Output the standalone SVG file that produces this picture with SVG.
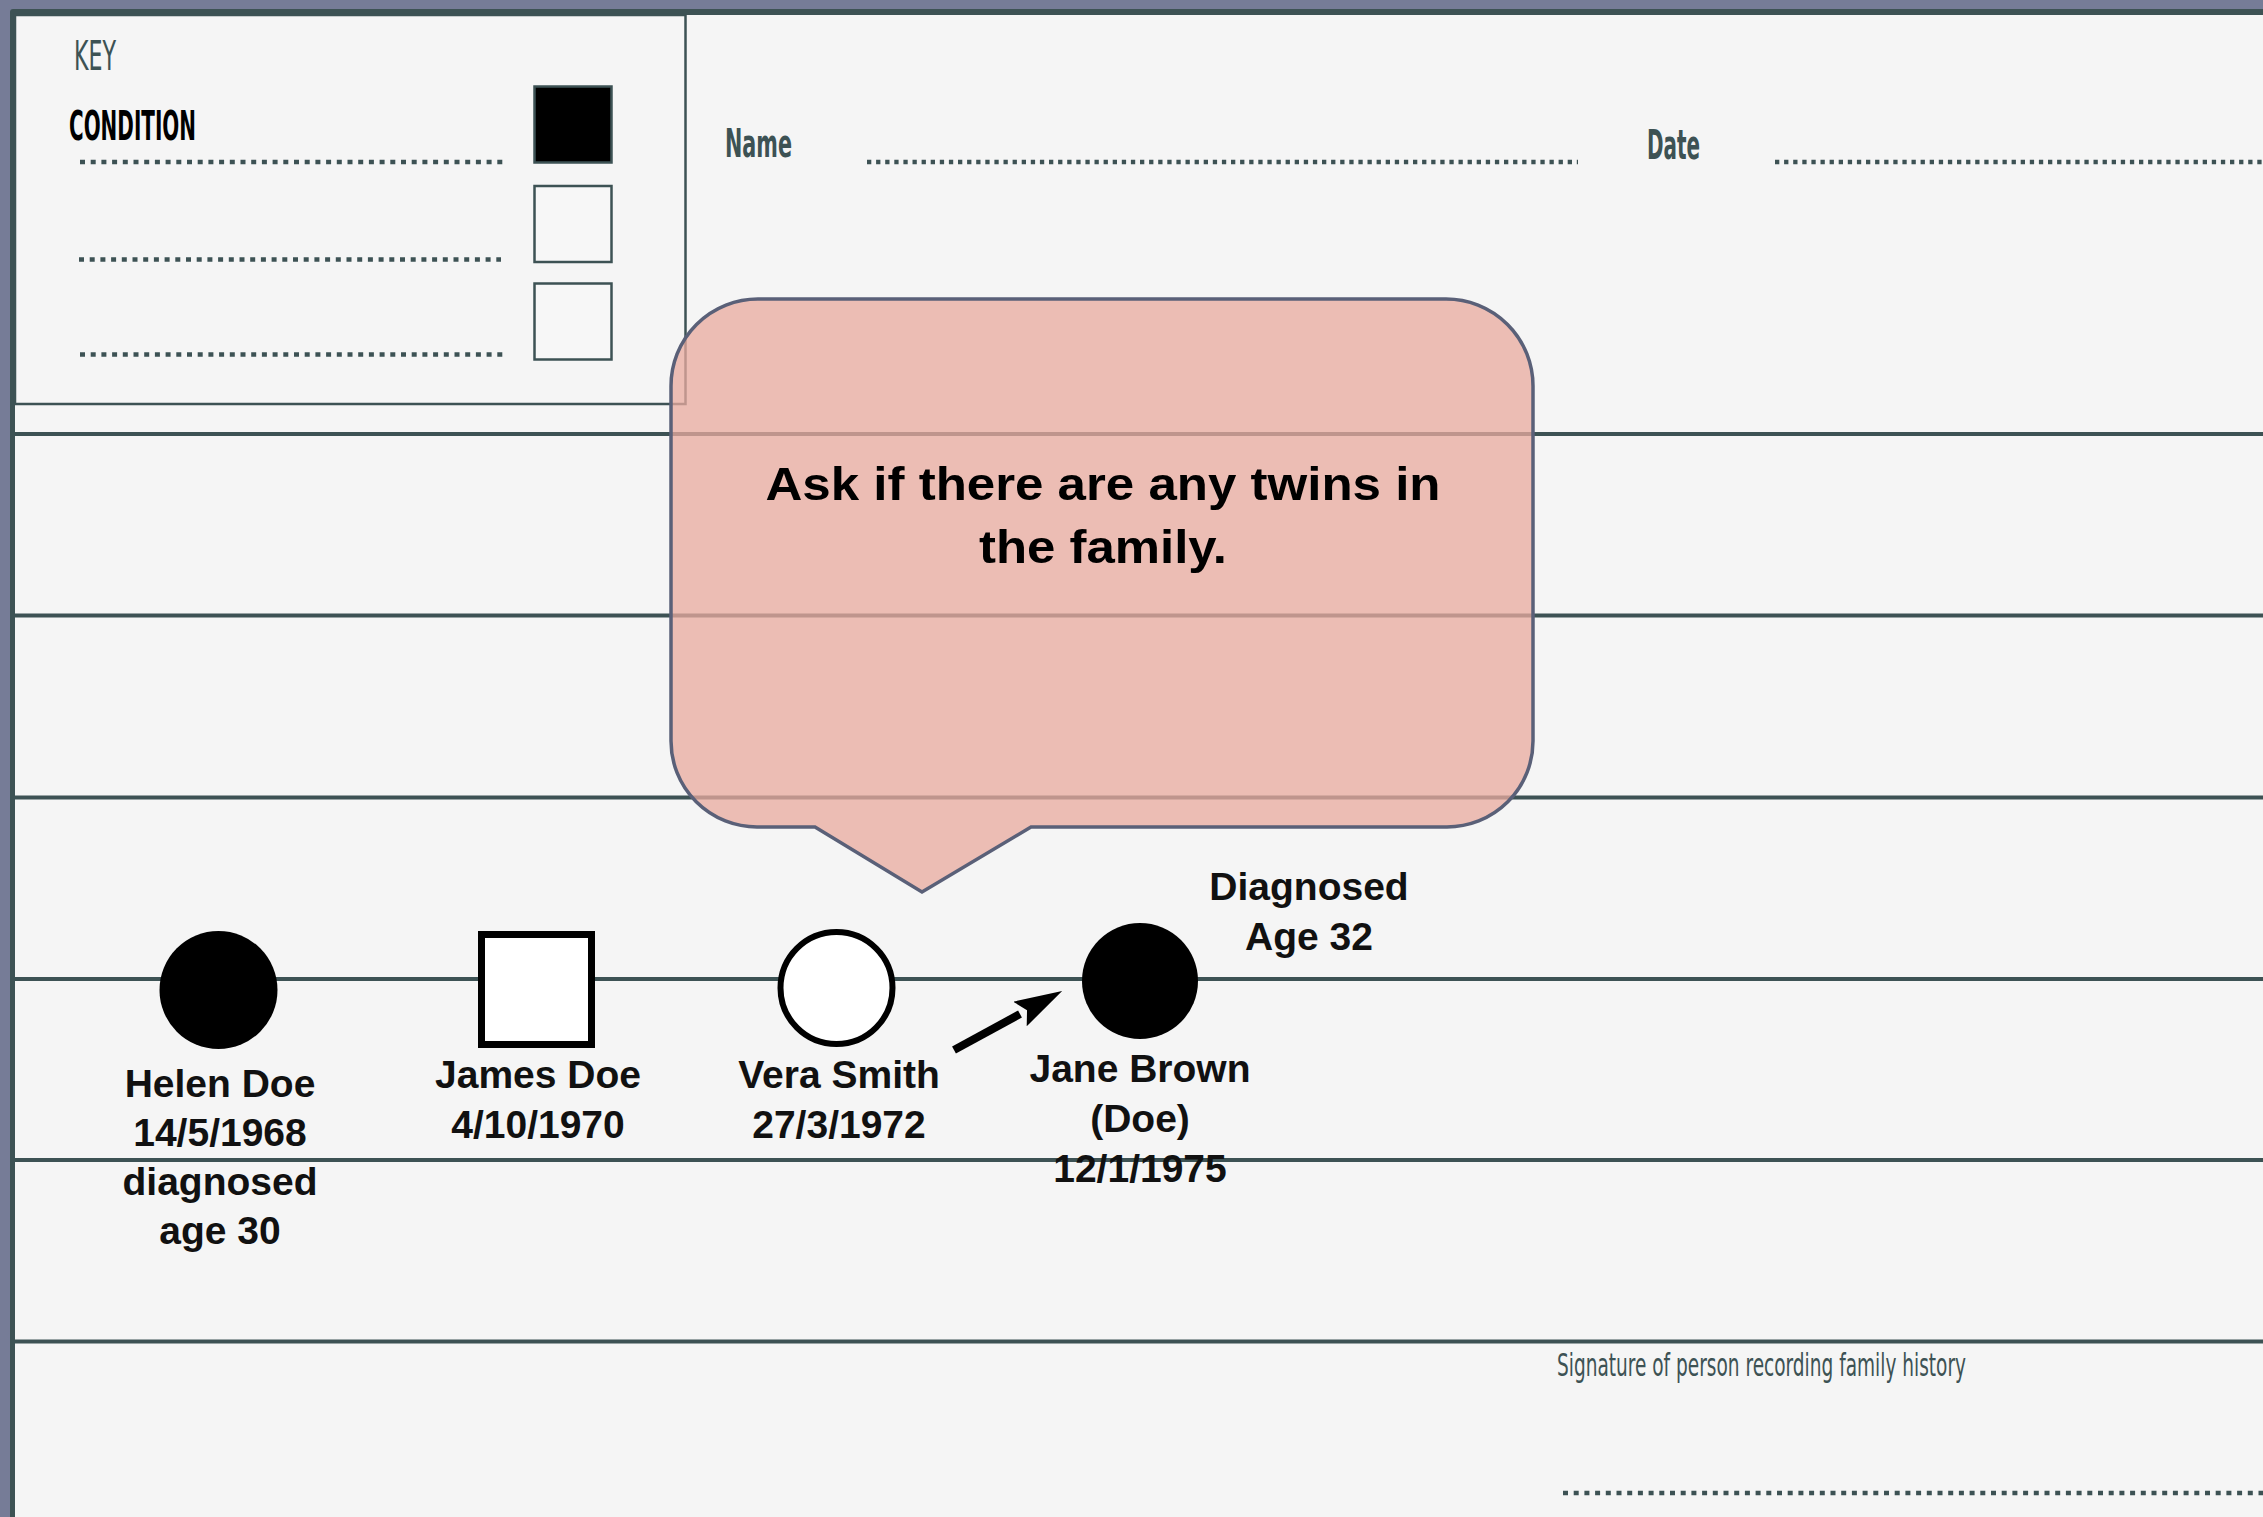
<svg xmlns="http://www.w3.org/2000/svg" width="2263" height="1517" viewBox="0 0 2263 1517">
  <style>
    .cond { font-family: "Liberation Sans Narrow", "DejaVu Sans Condensed", "Liberation Sans", sans-serif; font-weight: bold; fill: #3d5254; }
    .lbl { font-family: "Liberation Sans", Arial, sans-serif; font-weight: bold; font-size: 39px; fill: #111; text-anchor: middle; }
    .rule { stroke: #3d5254; stroke-width: 4; }
    .dots { stroke: #3d5254; stroke-width: 4.6; stroke-dasharray: 5 5.7; fill: none; }
    .dots2 { stroke: #3d5254; stroke-width: 4.6; stroke-dasharray: 4.3 4.8; fill: none; }
    .keysq { stroke: #3d5254; stroke-width: 2.5; }
  </style>
  <defs>
    <marker id="arrowhead" markerUnits="userSpaceOnUse" markerWidth="48" markerHeight="28" viewBox="0 0 48 28" refX="0" refY="14" orient="auto">
      <path d="M0,0 L48,14 L0,28 L8,14 Z" fill="#000"/>
    </marker>
  </defs>

  <!-- page frame -->
  <g id="frame">
    <rect x="0" y="0" width="2263" height="1517" fill="#767c97"/>
    <rect x="10" y="9" width="2263" height="1530" rx="3" fill="#3d5254"/>
    <rect x="15" y="15" width="2263" height="1530" fill="#f5f5f5"/>
  </g>

  <!-- ruled lines -->
  <g id="rules">
    <line class="rule" x1="15" y1="434" x2="2263" y2="434"/>
    <line class="rule" x1="15" y1="615.5" x2="2263" y2="615.5"/>
    <line class="rule" x1="15" y1="797.5" x2="2263" y2="797.5"/>
    <line class="rule" x1="15" y1="979" x2="2263" y2="979"/>
    <line class="rule" x1="15" y1="1160" x2="2263" y2="1160"/>
    <line class="rule" x1="15" y1="1341.5" x2="2263" y2="1341.5"/>
  </g>

  <!-- key -->
  <g id="key">
    <rect x="15" y="15" width="670.5" height="389" fill="none" stroke="#3d5254" stroke-width="2.5"/>
    <text class="cond" x="74" y="70" font-size="41" textLength="42" lengthAdjust="spacingAndGlyphs" style="font-weight:normal">KEY</text>
    <text class="cond" x="69" y="140" font-size="41" textLength="127" lengthAdjust="spacingAndGlyphs" style="fill:#000">CONDITION</text>
    <line class="dots" x1="80" y1="162" x2="503" y2="162"/>
    <line class="dots" x1="79" y1="259.5" x2="501" y2="259.5"/>
    <line class="dots" x1="80" y1="354.5" x2="503" y2="354.5"/>
    <rect class="keysq" x="534.5" y="86.5" width="77" height="76" fill="#000"/>
    <rect class="keysq" x="534.5" y="186" width="77" height="76" fill="#f7f7f7"/>
    <rect class="keysq" x="534.5" y="283.5" width="77" height="76" fill="#f7f7f7"/>
  </g>

  <!-- header -->
  <g id="header">
    <text class="cond" x="725" y="157" font-size="39" textLength="67" lengthAdjust="spacingAndGlyphs">Name</text>
    <line class="dots2" x1="867" y1="162" x2="1578" y2="162"/>
    <text class="cond" x="1647" y="159" font-size="40" textLength="53" lengthAdjust="spacingAndGlyphs">Date</text>
    <line class="dots2" x1="1775" y1="162" x2="2263" y2="162"/>
  </g>

  <!-- signature -->
  <g id="signature">
    <text class="cond" x="1557" y="1376" font-size="32" textLength="409" lengthAdjust="spacingAndGlyphs" style="font-weight:normal">Signature of person recording family history</text>
    <line class="dots" x1="1563" y1="1493" x2="2263" y2="1493"/>
  </g>

  <!-- people -->
  <g id="helen-doe">
    <circle cx="218.5" cy="990" r="59" fill="#000"/>
    <text class="lbl" x="220" y="1097">Helen Doe</text>
    <text class="lbl" x="220" y="1146">14/5/1968</text>
    <text class="lbl" x="220" y="1195">diagnosed</text>
    <text class="lbl" x="220" y="1244">age 30</text>
  </g>
  <g id="james-doe">
    <rect x="481.5" y="934.5" width="110" height="110" fill="#fff" stroke="#000" stroke-width="7"/>
    <text class="lbl" x="538" y="1088">James Doe</text>
    <text class="lbl" x="538" y="1138">4/10/1970</text>
  </g>
  <g id="vera-smith">
    <circle cx="836.5" cy="988" r="56" fill="#fff" stroke="#000" stroke-width="6"/>
    <text class="lbl" x="839" y="1088">Vera Smith</text>
    <text class="lbl" x="839" y="1138">27/3/1972</text>
  </g>
  <g id="jane-brown">
    <circle cx="1140" cy="981" r="58" fill="#000"/>
    <text class="lbl" x="1140" y="1082">Jane Brown</text>
    <text class="lbl" x="1140" y="1132">(Doe)</text>
    <text class="lbl" x="1140" y="1182">12/1/1975</text>
  </g>
  <g id="diagnosed-note">
    <text class="lbl" x="1309" y="900">Diagnosed</text>
    <text class="lbl" x="1309" y="950">Age 32</text>
  </g>

  <!-- connectors -->
  <g id="connectors">
    <line x1="954" y1="1050" x2="1020" y2="1014" stroke="#000" stroke-width="8" marker-end="url(#arrowhead)"/>
  </g>

  <!-- callout -->
  <g id="callout">
    <path d="M759,299 H1446 A87,87 0 0 1 1533,386 V741 A86,86 0 0 1 1447,827 H1031 L922,892 L815,827 H757 A86,86 0 0 1 671,741 V386 A87,87 0 0 1 758,299 Z" fill="#e9ab9f" fill-opacity="0.76" stroke="#5a6078" stroke-width="3.5"/>
    <text class="lbl" x="1103" y="500" style="font-size:46px;fill:#000" textLength="675" lengthAdjust="spacingAndGlyphs">Ask if there are any twins in</text>
    <text class="lbl" x="1103" y="563" style="font-size:46px;fill:#000" textLength="248" lengthAdjust="spacingAndGlyphs">the family.</text>
  </g>
</svg>
